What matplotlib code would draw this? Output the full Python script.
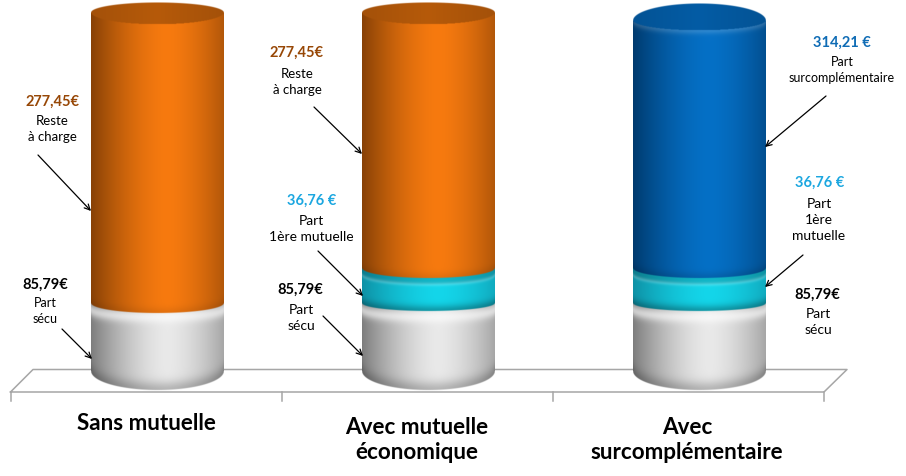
import numpy as np
import matplotlib
matplotlib.use("Agg")
import matplotlib.pyplot as plt

plt.rcParams['font.family'] = ['Lato', 'DejaVu Sans']

# hauteurs (pixels au-dessus du sol), pas les euros
categories = ['Sans mutuelle', 'Avec mutuelle\néconomique', 'Avec\nsurcomplémentaire']
secu = [68, 68, 68]
mutuelle = [0, 35, 35]
reste = [291, 256, 0]
surcomp = [0, 0, 248]

col_grey = ((233, 233, 233), (125, 125, 125))
col_teal = ((20, 214, 234), (14, 145, 165))
col_orange = ((247, 122, 15), (135, 65, 6))
col_blue = ((5, 112, 198), (0, 58, 110))

W, H = 906, 477
BASE = 373
SPACING = 271.25
X0 = 157
RX = 66.5

fig = plt.figure(figsize=(W / 100, H / 100), dpi=100)

floor = fig.add_axes([0, 0, 1, 1], zorder=1)
floor.set_xlim(0, W)
floor.set_ylim(H, 0)
floor.axis('off')

ax = fig.add_axes([0, 0, 1, 1], zorder=2)
ax.patch.set_alpha(0)
ax.axis('off')

over = fig.add_axes([0, 0, 1, 1], zorder=5)
over.set_xlim(0, W)
over.set_ylim(H, 0)
over.axis('off')
over.patch.set_alpha(0)


def shade(u, colors):
    centre, edge = np.array(colors[0], float), np.array(colors[1], float)
    t = np.clip(np.abs(u - 0.15) / 1.15, 0, 1) ** 1.6
    return centre[None, None, :] * (1 - t[..., None]) + edge[None, None, :] * t[..., None]


def segment(i, bottom, height, colors, top_ry=10, bot_ry=10, light=0.0, light_at=5.0, light_w=4.0,
            top_dark=0.0, bot_dark=0.25, bot_w=6.0, cap_back=0, cap_col=None):
    if height <= 0:
        return
    y_top = BASE - bottom - height
    y_bot = BASE - bottom
    ys = np.arange(y_top - 20, y_bot + 22, 0.5)
    xs = np.arange(-RX, RX + 0.25, 0.25)
    X, Y = np.meshgrid(xs, ys)
    u = X / RX
    arc = np.sqrt(np.clip(1 - u ** 2, 0, 1))
    d_top = Y - (y_top + top_ry * arc)
    d_bot = y_bot + bot_ry * arc - Y

    rgb = shade(u, colors)
    rgb = rgb * (1 - (top_dark * np.clip((light_at - d_top) / 2 + 0.5, 0, 1))[..., None])
    glow = np.exp(-((d_top - light_at) / light_w) ** 2) * light
    rgb = rgb + (255 - rgb) * glow[..., None]
    rgb = rgb * (1 - (np.exp(-(d_bot / bot_w) ** 2) * bot_dark)[..., None])

    upper = d_top + 9
    if cap_back:
        c = np.array(cap_col, float)
        flat = c[None, None, :] * (0.9 + 0.1 * np.clip(1 - np.abs(u), 0, 1)[..., None])
        rgb = np.where((d_top < 0)[..., None], flat, rgb)
        upper = Y - (y_top - cap_back * arc)
    alpha = np.clip(np.minimum(upper, d_bot) * 2, 0, 1)
    rgba = np.dstack([rgb / 255, alpha])
    x_l = i + (-RX) / SPACING
    x_r = i + RX / SPACING
    ax.imshow(rgba, extent=(x_l, x_r, BASE - ys[-1], BASE - ys[0]),
              aspect='auto', interpolation='bilinear', zorder=3 + bottom / 100)


for i in range(3):
    segment(i, 0, secu[i], col_grey, top_ry=8, bot_ry=19, light=0.6, light_at=6, light_w=6,
            bot_dark=0.22, bot_w=9)
    segment(i, secu[i], mutuelle[i], col_teal, bot_ry=8, light=0.2, light_at=6, light_w=2,
            top_dark=0.15, bot_dark=0.28)
    segment(i, secu[i] + mutuelle[i], reste[i], col_orange, top_ry=12, bot_dark=0.08,
            cap_back=10, cap_col=(182, 90, 10))
    segment(i, secu[i] + mutuelle[i], surcomp[i], col_blue, top_ry=10, light=0.16, light_at=0,
            bot_dark=0.12, cap_back=17, cap_col=(4, 92, 165))
ax.set_xlim(-X0 / SPACING, (W - X0) / SPACING)
ax.set_ylim(BASE - H, BASE)

# sol
floor.plot([10.5, 33, 847, 824, 10.5], [393, 370.5, 370.5, 393, 393], color='#a6a6a6', lw=1.1)
for x in [10.5, 281.5, 552.5, 824]:
    floor.plot([x, x], [393, 402], color='#a6a6a6', lw=1.1)

for c, x, y in zip(categories, [146, 417, 687], [424, 440, 440]):
    over.text(x, y, c, ha='center', va='center', fontsize=16.2, fontweight='bold',
              color='black', linespacing=1.25)

BROWN = '#974706'
CYAN = '#1CA7E0'
BLUE = '#0F6CB5'
values = [
    (52, 102, '277,45€', BROWN), (297, 53, '277,45€', BROWN), (842, 43, '314,21 €', BLUE),
    (312, 201, '36,76 €', CYAN), (820, 183, '36,76 €', CYAN),
    (45, 285, '85,79€', 'black'), (300, 290, '85,79€', 'black'), (817, 295, '85,79€', 'black'),
]
notes = [
    (52, 129, 'Reste\nà charge', 9.5), (297, 81.5, 'Reste\nà charge', 9.5),
    (842, 69.5, 'Part\nsurcomplémentaire', 9), (311, 229.5, 'Part\n1ère mutuelle', 10),
    (819, 220, 'Part\n1ère\nmutuelle', 10), (45, 311.5, 'Part\nsécu', 9),
    (301, 318, 'Part\nsécu', 10), (818, 322, 'Part\nsécu', 10),
]
for x, y, t, c in values:
    over.text(x, y, t, ha='center', va='center', fontsize=10.5, fontweight='bold', color=c)
for x, y, t, s in notes:
    over.text(x, y, t, ha='center', va='center', fontsize=s, color='black', linespacing=1.4)

arrows = [
    ((38, 156), (91, 212)), ((62, 330), (92, 360)), ((314, 108), (362, 155)),
    ((318, 252), (363, 297)), ((323, 317), (363, 357)), ((826, 97), (765, 148)),
    ((803, 256), (765, 288)),
]
for a, b in arrows:
    over.annotate('', xy=b, xytext=a,
                  arrowprops=dict(arrowstyle='->', color='black', lw=0.9, shrinkA=0, shrinkB=0))

fig.savefig('out.png', dpi=100)
